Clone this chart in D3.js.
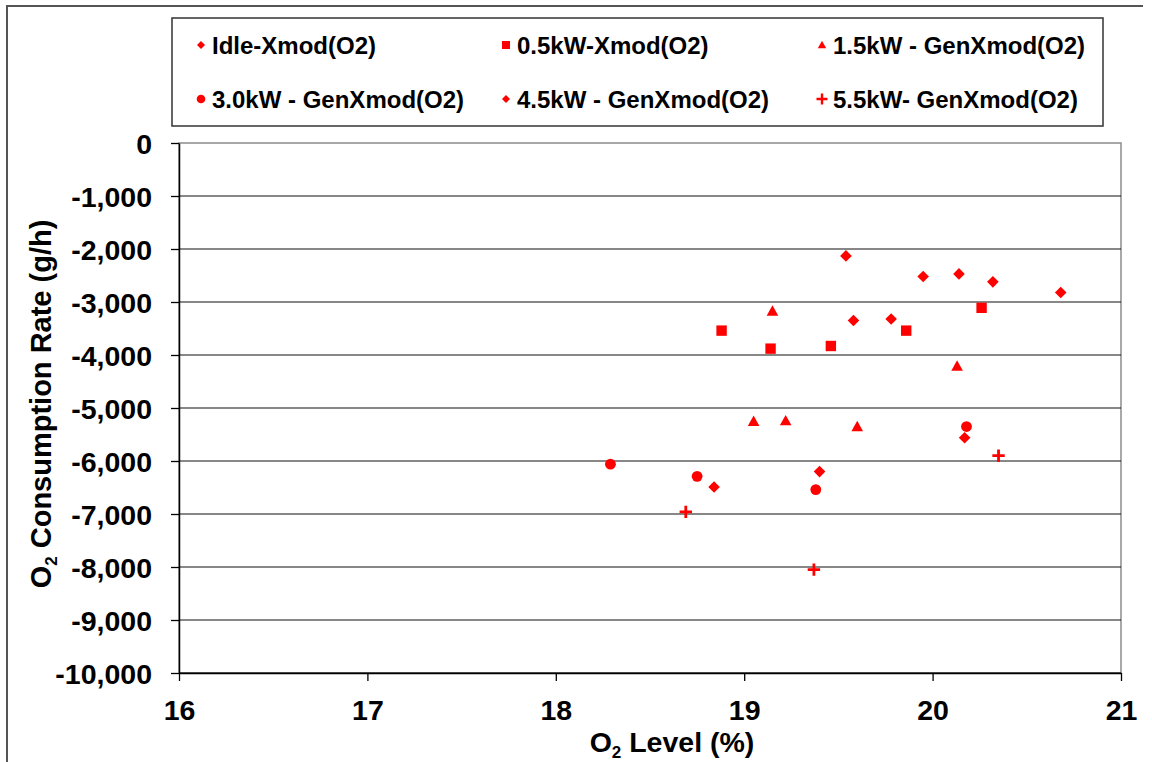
<!DOCTYPE html>
<html>
<head>
<meta charset="utf-8">
<script src="https://cdn.jsdelivr.net/npm/d3@7"></script>
<style>
  body { margin: 0; background: #fff; }
  text { font-family: "Liberation Sans", Arial, sans-serif; font-weight: bold; fill: #000; }
</style>
</head>
<body>
<div id="chart"></div>
<script>
// series values (x = O2 level %, y = g/h)
const idleX = [19.54, 19.58, 19.78, 19.95, 20.14, 20.32, 20.68];
const idleY = [-2130, -3350, -3320, -2520, -2470, -2620, -2820];
const kw05X = [18.88, 19.14, 19.46, 19.86, 20.26];
const kw05Y = [-3540, -3880, -3830, -3540, -3110];
const kw15X = [19.05, 19.15, 19.22, 19.6, 20.13];
const kw15Y = [-5250, -3170, -5240, -5350, -4210];
const kw30X = [18.29, 18.75, 19.38, 20.18];
const kw30Y = [-6060, -6290, -6540, -5350];
const kw45X = [18.84, 19.4, 20.17];
const kw45Y = [-6490, -6200, -5560];
const kw55X = [18.69, 19.37, 20.35];
const kw55Y = [-6960, -8050, -5900];

const seriesNames = [
  "Idle-Xmod(O2)", "0.5kW-Xmod(O2)", "1.5kW - GenXmod(O2)",
  "3.0kW - GenXmod(O2)", "4.5kW - GenXmod(O2)", "5.5kW- GenXmod(O2)"
];
const xTicks = [16, 17, 18, 19, 20, 21];
const yTicks = [0, -1000, -2000, -3000, -4000, -5000, -6000, -7000, -8000, -9000, -10000];

// custom marker shapes, size = half width
const diamond = { draw(c, r) { c.moveTo(0, -r); c.lineTo(r, 0); c.lineTo(0, r); c.lineTo(-r, 0); c.closePath(); } };
const square = { draw(c, r) { c.rect(-r, -r, 2 * r, 2 * r); } };
const triangle = { draw(c, r) { c.moveTo(0, -r); c.lineTo(r, r * 0.8); c.lineTo(-r, r * 0.8); c.closePath(); } };
const circle = { draw(c, r) { c.moveTo(r, 0); c.arc(0, 0, r, 0, 2 * Math.PI); } };
const plus = { draw(c, r) { c.moveTo(-r, 0); c.lineTo(r, 0); c.moveTo(0, -r); c.lineTo(0, r); } };

const series = [
  { name: seriesNames[0], xs: idleX, ys: idleY, shape: diamond, r: 5.8, lr: 4 },
  { name: seriesNames[1], xs: kw05X, ys: kw05Y, shape: square, r: 5.2, lr: 4 },
  { name: seriesNames[2], xs: kw15X, ys: kw15Y, shape: triangle, r: 5.8, lr: 4.2 },
  { name: seriesNames[3], xs: kw30X, ys: kw30Y, shape: circle, r: 5.4, lr: 4.3 },
  { name: seriesNames[4], xs: kw45X, ys: kw45Y, shape: diamond, r: 5.8, lr: 4 },
  { name: seriesNames[5], xs: kw55X, ys: kw55Y, shape: plus, r: 6.2, lr: 5.5, stroke: true }
];

const W = 1152, H = 762;
const margin = { top: 143, right: 31, bottom: 89, left: 179 };
const width = W - margin.left - margin.right;
const height = H - margin.top - margin.bottom;
const red = "#ff0000";

const svg = d3.select("#chart").append("svg")
  .attr("width", W)
  .attr("height", H);

// outer chart frame (only top and left visible)
svg.append("path")
  .attr("d", "M7,770 L7,6 L1143,6")
  .attr("fill", "none")
  .attr("stroke", "#555")
  .attr("stroke-width", 2);

const g = svg.append("g")
  .attr("transform", "translate(" + margin.left + "," + margin.top + ")");

const x = d3.scaleLinear().domain([16, 21]).range([0, width]);
const y = d3.scaleLinear().domain([-10000, 0]).range([height, 0]);

// plot frame
g.append("rect")
  .attr("x", 0).attr("y", 0)
  .attr("width", width).attr("height", height)
  .attr("fill", "none")
  .attr("stroke", "#8c8c8c")
  .attr("stroke-width", 1.5);

// gridlines
g.selectAll(".grid")
  .data(yTicks.filter((d) => d !== 0))
  .enter()
  .append("line")
  .attr("class", "grid")
  .attr("x1", 0)
  .attr("x2", width)
  .attr("y1", (d) => y(d))
  .attr("y2", (d) => y(d))
  .attr("stroke", "#111")
  .attr("stroke-width", 1.2);

const fmt = d3.formatLocale({ decimal: ".", thousands: ",", grouping: [3], currency: ["", ""], minus: "-" }).format(",");

const yAxis = d3.axisLeft(y).tickValues(yTicks).tickFormat(fmt).tickSize(8).tickSizeOuter(0).tickPadding(19);
const xAxis = d3.axisBottom(x).tickValues(xTicks).tickFormat(d3.format("d")).tickSize(8).tickSizeOuter(0).tickPadding(19);

const yg = g.append("g").attr("class", "axis y-axis").call(yAxis);
const xg = g.append("g").attr("class", "axis x-axis")
  .attr("transform", "translate(0," + height + ")")
  .call(xAxis);

[yg, xg].forEach((a) => {
  a.select(".domain").attr("stroke", "#000").attr("stroke-width", 1.5);
  a.selectAll(".tick line").attr("stroke", "#000").attr("stroke-width", 1.3);
  a.selectAll(".tick text")
    .style("font-family", "'Liberation Sans', Arial, sans-serif")
    .style("font-weight", "bold")
    .style("font-size", "28.5px")
    .attr("fill", "#000");
});
yg.selectAll(".tick text").attr("dy", "0.36em");

// markers
const symbol = d3.symbol();
series.forEach((s) => {
  g.selectAll(null)
    .data(s.xs.map((v, i) => ({ x: v, y: s.ys[i] })))
    .enter()
    .append("path")
    .attr("transform", (d) => "translate(" + x(d.x) + "," + y(d.y) + ")")
    .attr("d", symbol.type(s.shape).size(s.r)())
    .attr("fill", s.stroke ? "none" : red)
    .attr("stroke", s.stroke ? red : "none")
    .attr("stroke-width", s.stroke ? 2.8 : 0);
});

// axis titles
svg.append("text")
  .attr("x", 672)
  .attr("y", 752)
  .attr("text-anchor", "middle")
  .style("font-size", "28.5px")
  .html('O<tspan font-size="17px" dy="6">2</tspan><tspan dy="-6"> Level (%)</tspan>');

svg.append("text")
  .attr("transform", "translate(51,404) rotate(-90)")
  .attr("text-anchor", "middle")
  .style("font-size", "29px")
  .html('O<tspan font-size="17px" dy="6">2</tspan><tspan dy="-6"> Consumption Rate (g/h)</tspan>');

// legend
const legend = svg.append("g");
legend.append("rect")
  .attr("x", 172).attr("y", 18)
  .attr("width", 931).attr("height", 108)
  .attr("fill", "#fff")
  .attr("stroke", "#333")
  .attr("stroke-width", 1.5);

const colX = [201, 506, 822];
const rowY = [45, 99];
const items = legend.selectAll(".item")
  .data(series)
  .enter()
  .append("g")
  .attr("class", "item")
  .attr("transform", (d, i) => "translate(" + colX[i % 3] + "," + rowY[Math.floor(i / 3)] + ")");

items.append("path")
  .attr("d", (d) => d3.symbol().type(d.shape).size(d.lr)())
  .attr("fill", (d) => (d.stroke ? "none" : red))
  .attr("stroke", (d) => (d.stroke ? red : "none"))
  .attr("stroke-width", (d) => (d.stroke ? 2.4 : 0));

items.append("text")
  .attr("x", 11)
  .attr("y", 9)
  .style("font-size", "24px")
  .text((d) => d.name);
</script>
</body>
</html>
